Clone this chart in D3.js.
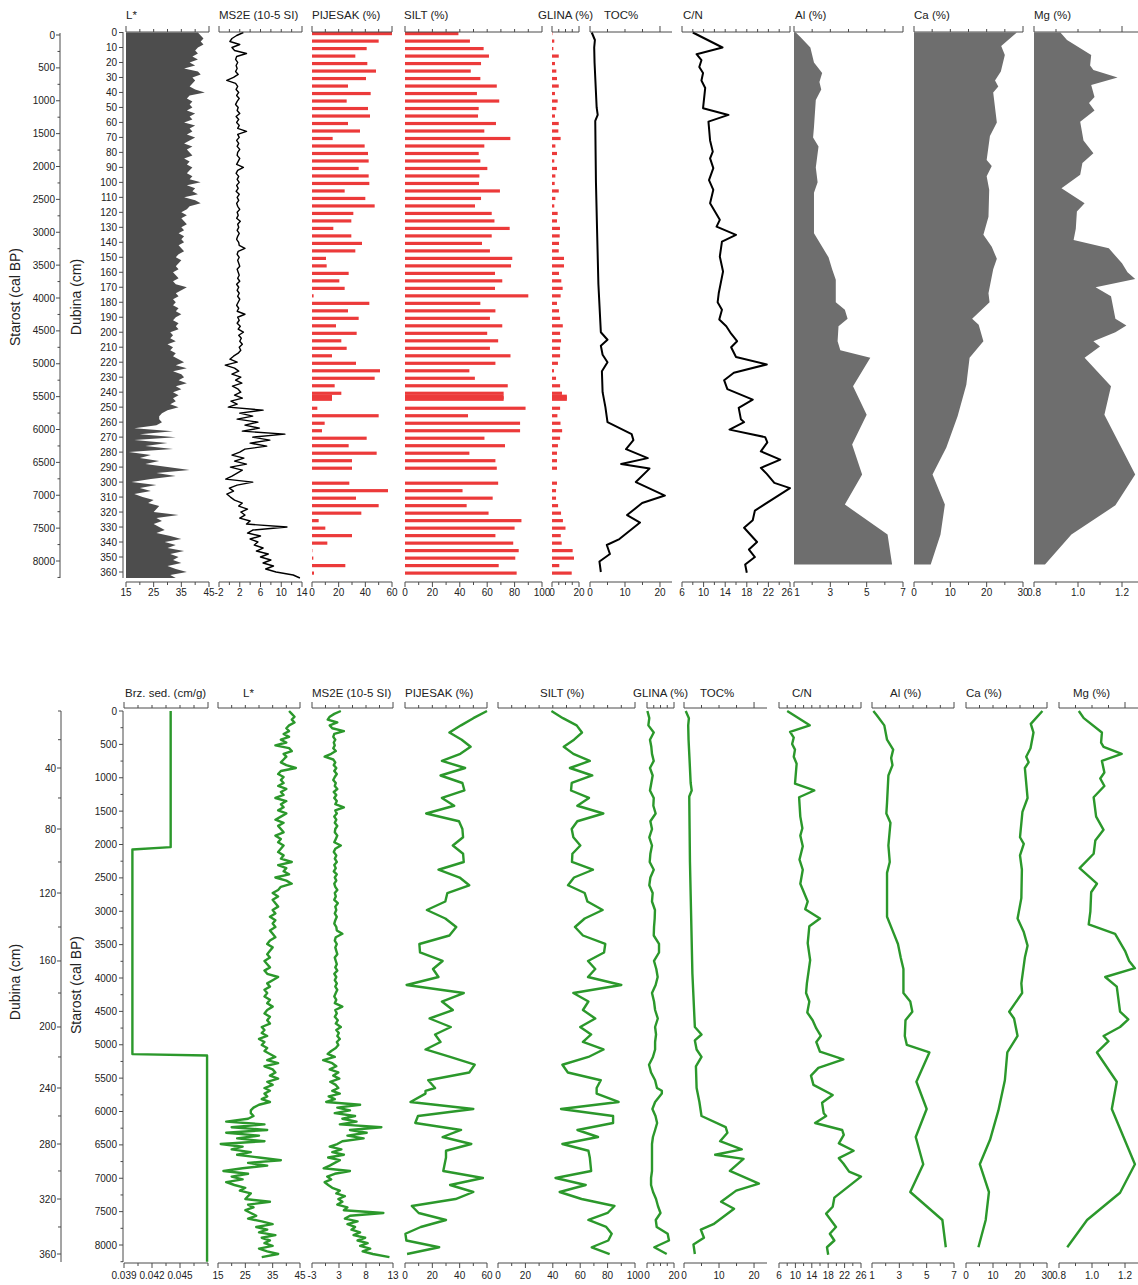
<!DOCTYPE html>
<html>
<head>
<meta charset="utf-8">
<script src="https://cdn.jsdelivr.net/npm/d3@7/dist/d3.min.js"></script>
<style>
html,body{margin:0;padding:0;background:#fff;}
svg text{font-family:Arial,"Liberation Sans",Helvetica,sans-serif;fill:#222;}
</style>
</head>
<body>
<div id="chart"></div>
<script>
// ================= DATA =================
// age-depth model (depth cm -> cal BP), read from the lower panel's depth axis
const adDepth = [0,20,40,60,80,100,120,140,160,180,200,220,240,260,280,300,320,340,360,365];
const adAge   = [0,430,854,1303,1768,2262,2727,3236,3745,4225,4734,5183,5648,6067,6487,6891,7311,7730,8135,8250];

// high resolution series, one value every 2 cm starting at 0 cm
const hiResStep = 2;
const lstar = [
41,42,43,42,43,41,
40,41,39,41,38, 40,36,41,42,39, 40,39,38,40,43.5, 38,37,39,38,39, 37,40,38,39,36,
40,38,39,37,40, 38,36,39,37,38, 39,36,38,37,39, 38,37,39,38,42, 37,40,39,41,36,
40,42,38,37,35, 37,35,36,37,35, 36,34,36,35,36, 34,35,36,34,33, 35,34,33,34,32,
33,34,32,33,37, 35,33,34,32,33, 32,34,33,35,33, 32,34,33,34,31, 32,31,33,30,32,
31,33,32,34,36, 33,37,32,35,36, 34,37,33,35,32, 34,32,33,31,34, 30,28,27,27,28,
26,18,32,20,33, 18,30,22,32,16, 24,20,27,22,30, 38,26,33,24,17, 26,20,24,18,21,
25,23,27,26,25, 34,26,28,25,27, 29,26,31,35,29, 33,30,36,31,34, 32,35,30,33,37,
31,33];
const ms2e = [
2.7,1.4,0.5,0.1,2,0.5,
1,3.3,1.4,1.2,1.6, 1.3,1.5,1.2,1.7,0.8, -0.5,1.2,1.6,1.3,1.8, 1.4,1.9,1.5,1.2,1.7, 1.5,2,1.3,1.8,1.4,
1.9,1.6,3.3,1.6,1.9, 1.4,1.8,1.5,2,1.6, 1.5,2,1.7,1.4,2.7, 1.6,1.3,1.8,1.5,1.9, 1.4,1.7,1.3,1.9,1.5,
1.8,1.4,1.6,2,1.5, 1.7,1.4,2.1,1.6,1.8, 1.5,1.9,1.6,1.4,1.8, 1.9,3,1.7,1.5,1.9, 1.6,1.8,2,1.5,1.7,
1.9,1.6,2,1.4,1.8, 1.5,1.9,1.6,2,1.7, 1.4,1.8,1.5,3,1.6, 1.9,1.5,2.1,1.7,2.7, 1.8,2.3,2,2.5,1.9,
2.2,1.7,0.8,0.1,1.5, -0.8,1,1.8,0.5,2.2, 1.2,2.4,0.6,1.7,2.2, 1,2.5,0.3,1.5,-0.2, 6.5,2,4.5,1.5,5.5,
3,5.8,2.5,10.7,4.5, 7.8,4,7.2,3,2, 0.5,2.8,1,3.3,0.2, 2.5,1.5,0.5,-0.7,4.5, 1.5,0,0.8,-0.5,0.2,
1,2.5,1.8,3.5,2.2, 3,2,4,3.3,11.1, 4.5,3.5,6,4,5.5, 4.8,6.5,5.2,7.5,6, 8,6.5,8.5,7,9,
12.3,13.6];

// grain size samples (cm)
const sedDepth = [0,5,10,15,20,25,30,35,40,45,50,55,60,65,70,75,80,85,90,95,100,105,110,115,120,125,130,135,140,145,150,155,160,165,170,175,180,185,190,195,200,205,210,215,220,225,230,235,240,242,243,244,250,255,260,265,270,275,280,285,290,300,305,310,315,320,325,330,335,340,345,350,355,360];
const pijesak = [60,50,41,32.5,41.5,48,40.5,27,44,26,42,43.5,27,36,15.5,39.5,42,42.5,35,42.5,43,24.5,40,47,31,29.5,16,29.5,37.5,32.5,10.5,11,27.5,20.5,24.5,1.2,43,27,35,18,33.5,22,26,15,33,51,47,17,22,15,15,15,4,50,9.5,7.5,41,27.5,48.5,30,30,28,57,33,50,37,5,10,30,11.5,0.3,1,25,1.5];
const silt = [39,47.4,57.4,61.3,55.5,48,55,67,52.5,68.8,53.8,53.3,66.4,57.9,76.9,57.9,53.8,55,60.1,54.3,54,69.3,55.5,51.1,63.3,65.3,76.4,63.3,56.2,62,78.3,77.4,65.7,71,65.7,90,55,66,62,71,60,68,62,77,66,47,51,75,72,72,72,72,88,46,84,84,58,73,47,66,67,68,42,64,45,61,85,80,66,79,83,80.5,68.4,81.5];
const glina = [0.3,1.7,1,5,2.2,3.2,3.7,5,2.2,4.2,3.2,2.2,5,4.7,6.4,2.5,3.7,1.7,3.7,2.5,2,5,2.5,1.7,4.2,3.7,5.9,5.7,5.2,5,8.9,8.9,5.2,6.9,7.9,6.4,3.7,5.2,6,8,6,6.7,6,6,4.4,1.5,3,6,7.4,11,11,11,6,4,6.3,7.5,6,4.4,3.7,3.7,3.7,3.7,3,3,4.5,6.7,8.1,10,6.5,7.2,15.3,16.3,5.4,14.6];

// TOC (%)
const tocDepth = [0,5,10,20,35,50,55,59,80,100,130,168,200,205,209,215,220,226,240,250,260,268,272,278,284,288,291,300,309,314,322,327,338,342,348,353,360];
const tocVal   = [0.5,1.4,1.2,1.3,1.6,1.9,2.2,1.5,1.6,1.7,2.0,2.4,3.1,5.0,3.1,3.6,5.0,3.4,3.6,4.4,5.0,11.9,12.4,10.3,16.5,8.9,17,13.1,21.4,14.9,10.6,14.3,8.4,4.8,5.7,2.7,3.1];

// C/N
const cnDepth = [0,10,14.5,18.5,23,27,32,37,50.5,55,59.5,72,79.5,84,90.5,98.5,105,114,125,129.5,135,139.5,149.5,159.5,174,180,185,191.5,196,201,206,210,216.5,221.5,227,232,238,245,250.5,258,260,265,270,273.5,279.5,285,290.5,294.5,300.5,304,319,325.5,330.5,340,345,350,355,360.5];
const cnVal   = [8,13.5,8.7,9.6,9.2,9.9,9.6,10.3,9.9,14.6,10.9,11.2,11.7,11.2,11.8,11,11.8,11.2,13,12.4,16,13.4,13,13.6,12.8,12.6,13.4,12.9,14.2,15.1,16.2,15.1,16,21.7,15.6,13.8,14.4,19.1,16.5,16.9,17.5,14.8,21.4,21.8,20.6,24.2,20.6,21.7,23.1,26,19.5,19.1,17.5,19.9,18.4,19.5,17.7,18];

// Al (%)
const alDepth = [0,3,10,20,27,33,38,45,63,70,76,90,100,107,134,142,150,158,165,180,185,191,196,206,212,217,236,255,275,295,315,335,355];
const alVal   = [1.1,1.35,1.9,2.1,2.55,2.4,2.5,2.2,2.1,2.05,2.35,2.2,2.3,2.1,2.1,2.5,2.9,3.1,3.3,3.3,3.8,3.95,3.45,3.4,3.55,5.2,4.25,5.0,4.2,4.75,3.8,6.15,6.4];

// Ca (%)
const caDepth = [0,9,15,26,32,36,40,60,69,85,89,96,105,123,135,143,151,158,174,180,191,195,206,217,235,256,277,295,315,335,355];
const caVal   = [28.3,24,25,23.9,22.3,23.2,21.8,22.8,20.9,20,21.4,20,20.7,20.5,19.1,21.4,22.8,21.8,20.5,20.8,16,17.8,19.1,15.3,14.4,12,8.9,5.1,8.5,7.3,4.6];

// Mg (%)
const mgDepth = [0,5,15,22,25,30,35,43,47,52,59.5,72,80.5,87,95,104,114,119.5,131,138.5,144,154,160,164.5,170,176,191,195.5,200,206,209.5,217,236,255,295,315.5,335,355];
const mgVal   = [0.92,0.95,1.06,1.055,1.07,1.18,1.06,1.075,1.05,1.075,1.01,1.025,1.07,1.02,1.01,0.925,1.03,0.995,0.99,0.98,1.14,1.2,1.225,1.26,1.08,1.15,1.17,1.22,1.17,1.07,1.1,1.03,1.15,1.12,1.26,1.17,0.97,0.85];

// sedimentation rate (cm/g) vs age (cal BP)
const brzAge = [0,2040,2075,5140,5160,8250];
const brzVal = [0.0440,0.0440,0.0399,0.0399,0.0479,0.0479];

// tick values / labels
const ageTickVals = [0,500,1000,1500,2000,2500,3000,3500,4000,4500,5000,5500,6000,6500,7000,7500,8000];
const ageMinorVals = [250,750,1250,1750,2250,2750,3250,3750,4250,4750,5250,5750,6250,6750,7250,7750,8250];
const depthTopLabels = [0,10,20,30,40,50,60,70,80,90,100,110,120,130,140,150,160,170,180,190,200,210,220,230,240,250,260,270,280,290,300,310,320,330,340,350,360];
const depthBotLabels = [40,80,120,160,200,240,280,320,360];
const depthBotMinor  = [0,20,60,100,140,180,220,260,300,340];

const ticksL = [15,20,25,30,35,40,45], labsL = [15,25,35,45];
const ticksMsTop = [-2,0,2,4,6,8,10,12,14], labsMsTop = [-2,2,6,10,14];
const ticksMsBot = [-3,-0.3333,2.3333,5,7.6667,10.3333,13], labsMsBot = [-3,2.3333,7.6667,13], textMsBot = ["-3","3","8","13"];
const ticksPij = [0,10,20,30,40,50,60], labsPij = [0,20,40,60];
const ticksSilt = [0,10,20,30,40,50,60,70,80,90,100], labsSilt = [0,20,40,60,80,100];
const ticksGlina = [0,5,10,15,20], labsGlina = [0,20];
const ticksToc = [0,5,10,15,20], labsToc = [0,10,20];
const ticksCn = [6,8,10,12,14,16,18,20,22,24,26], labsCn = [6,10,14,18,22,26];
const ticksAl = [1,2,3,4,5,6,7], labsAl = [1,3,5,7];
const ticksCa = [0,5,10,15,20,25,30], labsCa = [0,10,20,30];
const ticksMg = [0.8,0.9,1.0,1.1,1.2], labsMg = [0.8,1.0,1.2];
const ticksBrz = [0.039,0.0405,0.042,0.0435,0.045,0.0465,0.048], labsBrz = [0.039,0.042,0.045];

// ================= DRAWING =================
const W = 1138, H = 1285;
const svg = d3.select('#chart').append('svg').attr('width', W).attr('height', H);
const AX = '#4a4a4a';
const GREEN = '#2b982b';
const RED = '#ec3a3a';

const hiDepth = lstar.map((_, i) => i * hiResStep);
const depthToAge = d3.scaleLinear(adDepth, adAge).clamp(false);

// vertical scales
const yTop = d3.scaleLinear([0, 360], [32.5, 572]);
const yAgeTop = d3.scaleLinear([0, 8000], [35, 561]);
const yBot = d3.scaleLinear([0, 8000], [711, 1245]);

function near(a, v) { return a.some(x => Math.abs(x - v) < 1e-6); }

function hAxis(g, x, y, ticks, labels, dir, labelY, fmt, texts, shifts) {
  const r = x.range();
  g.append('line').attr('x1', r[0]).attr('x2', r[1]).attr('y1', y).attr('y2', y)
    .attr('stroke', AX).attr('stroke-width', 1);
  ticks.forEach((v, i) => {
    let len;
    if (dir === 'up') len = (i === 0 || i === ticks.length - 1) ? 6 : 3;
    else len = near(labels, v) ? 5 : 3;
    const s = dir === 'up' ? -1 : 1;
    g.append('line').attr('x1', x(v)).attr('x2', x(v)).attr('y1', y).attr('y2', y + s * len)
      .attr('stroke', AX).attr('stroke-width', 1);
  });
  if (labelY != null) {
    labels.forEach((v, i) => {
      const dx = (shifts && shifts[i]) || 0;
      g.append('text').attr('x', x(v) + dx).attr('y', labelY).attr('text-anchor', 'middle')
        .attr('font-size', 10).text(texts ? texts[i] : fmt(v));
    });
  }
}

function vAxis(g, y, x, y0, y1, majors, minors, labelX, fmt, minorLen) {
  g.append('line').attr('x1', x).attr('x2', x).attr('y1', y0).attr('y2', y1)
    .attr('stroke', AX).attr('stroke-width', 1);
  majors.forEach(v => {
    g.append('line').attr('x1', x - 4).attr('x2', x).attr('y1', y(v)).attr('y2', y(v)).attr('stroke', AX);
    g.append('text').attr('x', labelX).attr('y', y(v)).attr('dy', '0.35em')
      .attr('text-anchor', 'end').attr('font-size', 10).text(fmt(v));
  });
  minors.forEach(v => {
    if (y(v) <= y1 + 0.5)
      g.append('line').attr('x1', x - (minorLen || 2.5)).attr('x2', x).attr('y1', y(v)).attr('y2', y(v)).attr('stroke', AX);
  });
}

function vTitle(g, text, x, y) {
  g.append('text').attr('transform', `translate(${x},${y}) rotate(-90)`)
    .attr('text-anchor', 'middle').attr('font-size', 14).text(text);
}
function colTitle(g, text, x, y) {
  g.append('text').attr('x', x).attr('y', y).attr('font-size', 11.5).text(text);
}

const fInt = d => String(d);
const f1 = d3.format('.1f');
const f3 = d3.format('.3f');

// ---------------- TOP PANEL ----------------
const gT = svg.append('g');
vAxis(gT, yAgeTop, 60, 33, 578, ageTickVals, ageMinorVals, 55, fInt);
vAxis(gT, yTop, 123, 32, 578, depthTopLabels, [], 117, fInt);
vTitle(gT, 'Starost (cal BP)', 20, 297);
vTitle(gT, 'Dubina (cm)', 81, 297);

const T_AX_TOP = 32, T_AX_BOT = 582, T_LAB = 596, T_TITLE = 19;

const xs = {
  L:   d3.scaleLinear([15, 45], [126, 209]),
  MS:  d3.scaleLinear([-2, 14], [219, 302]),
  PIJ: d3.scaleLinear([0, 60], [312, 392]),
  SILT:d3.scaleLinear([0, 100], [405, 542]),
  GL:  d3.scaleLinear([0, 20], [552, 579]),
  TOC: d3.scaleLinear([0, 23.43], [590, 672]),
  CN:  d3.scaleLinear([6, 26], [682, 790]),
  AL:  d3.scaleLinear([1, 7], [794, 903]),
  CA:  d3.scaleLinear([0, 30], [914, 1023]),
  MG:  d3.scaleLinear([0.8, 1.2727], [1034, 1138])
};
const topCols = [
  {s: xs.L, t: 'L*', tx: 126, ticks: ticksL, labs: labsL, f: fInt},
  {s: xs.MS, t: 'MS2E (10-5 SI)', tx: 219, ticks: ticksMsTop, labs: labsMsTop, f: fInt},
  {s: xs.PIJ, t: 'PIJESAK (%)', tx: 312, ticks: ticksPij, labs: labsPij, f: fInt},
  {s: xs.SILT, t: 'SILT (%)', tx: 404, ticks: ticksSilt, labs: labsSilt, f: fInt},
  {s: xs.GL, t: 'GLINA (%)', tx: 538, ticks: ticksGlina, labs: labsGlina, f: fInt},
  {s: xs.TOC, t: 'TOC%', tx: 604, ticks: ticksToc, labs: labsToc, f: fInt},
  {s: xs.CN, t: 'C/N', tx: 683, ticks: ticksCn, labs: labsCn, f: fInt, sh: [0,0,0,0,0,-3]},
  {s: xs.AL, t: 'Al (%)', tx: 795, ticks: ticksAl, labs: labsAl, f: fInt, sh: [3,0,0,0]},
  {s: xs.CA, t: 'Ca (%)', tx: 914, ticks: ticksCa, labs: labsCa, f: fInt},
  {s: xs.MG, t: 'Mg (%)', tx: 1034, ticks: ticksMg, labs: labsMg, f: f1}
];

// data marks (top)
const hi = hiDepth.map((d, i) => ({d, L: lstar[i], M: ms2e[i]}));
gT.append('path').datum(hi)
  .attr('d', d3.area().y(p => yTop(p.d)).x0(xs.L(15)).x1(p => xs.L(p.L)))
  .attr('fill', '#4d4d4d');
gT.append('path').datum(hi)
  .attr('d', d3.line().y(p => yTop(p.d)).x(p => xs.MS(p.M)))
  .attr('fill', 'none').attr('stroke', '#000').attr('stroke-width', 1.4).attr('stroke-linejoin', 'round');

const sed = sedDepth.map((d, i) => ({d, p: pijesak[i], s: silt[i], g: glina[i]}));
[['p', xs.PIJ], ['s', xs.SILT], ['g', xs.GL]].forEach(([k, sc]) => {
  gT.append('g').selectAll('rect').data(sed).join('rect')
    .attr('x', sc(0)).attr('y', r => yTop(r.d) - 0.5)
    .attr('width', r => Math.max(0, sc(r[k]) - sc(0))).attr('height', 3.2)
    .attr('fill', RED);
});

function pts(dep, val) { return dep.map((d, i) => ({d, v: val[i]})); }
const toc = pts(tocDepth, tocVal), cn = pts(cnDepth, cnVal), al = pts(alDepth, alVal),
      ca = pts(caDepth, caVal), mg = pts(mgDepth, mgVal);

gT.append('path').datum(toc).attr('d', d3.line().y(p => yTop(p.d)).x(p => xs.TOC(p.v)))
  .attr('fill', 'none').attr('stroke', '#000').attr('stroke-width', 2).attr('stroke-linejoin', 'round');
gT.append('path').datum(cn).attr('d', d3.line().y(p => yTop(p.d)).x(p => xs.CN(p.v)))
  .attr('fill', 'none').attr('stroke', '#000').attr('stroke-width', 2).attr('stroke-linejoin', 'round');
[[al, xs.AL], [ca, xs.CA], [mg, xs.MG]].forEach(([data, sc]) => {
  gT.append('path').datum(data)
    .attr('d', d3.area().y(p => yTop(p.d)).x0(sc.range()[0]).x1(p => sc(p.v)))
    .attr('fill', '#6e6e6e');
});

topCols.forEach(c => {
  hAxis(gT, c.s, T_AX_TOP, c.ticks.filter(v => v <= c.s.domain()[1] + 1e-9), [], 'up', null, c.f);
  hAxis(gT, c.s, T_AX_BOT, c.ticks, c.labs, 'down', T_LAB, c.f, null, c.sh);
  colTitle(gT, c.t, c.tx, T_TITLE);
});

// ---------------- BOTTOM PANEL ----------------
const gB = svg.append('g');
const yDepthBot = d => yBot(depthToAge(d));
vAxis(gB, yDepthBot, 61, 711, 1262, depthBotLabels, depthBotMinor, 56, fInt, 3);
vAxis(gB, yBot, 123, 711, 1262, ageTickVals, ageMinorVals, 117, fInt);
vTitle(gB, 'Dubina (cm)', 20, 982);
vTitle(gB, 'Starost (cal BP)', 81, 985);

const B_AX_TOP = 708, B_AX_BOT = 1263, B_LAB = 1279, B_TITLE = 697;
const xb = {
  BRZ: d3.scaleLinear([0.039, 0.048], [124, 208]),
  L:   d3.scaleLinear([15, 45], [218, 300]),
  MS:  d3.scaleLinear([-3, 13], [312, 393]),
  PIJ: d3.scaleLinear([0, 60], [405, 487]),
  SILT:d3.scaleLinear([0, 100], [498, 635]),
  GL:  d3.scaleLinear([0, 20], [647, 674]),
  TOC: d3.scaleLinear([0, 23.7], [684, 767]),
  CN:  d3.scaleLinear([6, 26], [779, 861]),
  AL:  d3.scaleLinear([1, 7], [872, 954]),
  CA:  d3.scaleLinear([0, 30], [966, 1047]),
  MG:  d3.scaleLinear([0.8, 1.2848], [1059, 1139])
};
const botCols = [
  {s: xb.BRZ, t: 'Brz. sed. (cm/g)', tx: 125, ticks: ticksBrz, labs: labsBrz, f: f3},
  {s: xb.L, t: 'L*', tx: 243, ticks: ticksL, labs: labsL, f: fInt},
  {s: xb.MS, t: 'MS2E (10-5 SI)', tx: 312, ticks: ticksMsBot, labs: labsMsBot, f: fInt, texts: textMsBot},
  {s: xb.PIJ, t: 'PIJESAK (%)', tx: 405, ticks: ticksPij, labs: labsPij, f: fInt},
  {s: xb.SILT, t: 'SILT (%)', tx: 540, ticks: ticksSilt, labs: labsSilt, f: fInt},
  {s: xb.GL, t: 'GLINA (%)', tx: 633, ticks: ticksGlina, labs: labsGlina, f: fInt},
  {s: xb.TOC, t: 'TOC%', tx: 700, ticks: ticksToc, labs: labsToc, f: fInt},
  {s: xb.CN, t: 'C/N', tx: 792, ticks: ticksCn, labs: labsCn, f: fInt},
  {s: xb.AL, t: 'Al (%)', tx: 890, ticks: ticksAl, labs: labsAl, f: fInt},
  {s: xb.CA, t: 'Ca (%)', tx: 966, ticks: ticksCa, labs: labsCa, f: fInt},
  {s: xb.MG, t: 'Mg (%)', tx: 1073, ticks: ticksMg, labs: labsMg, f: f1}
];

function greenLine(data, sc, yf) {
  gB.append('path').datum(data)
    .attr('d', d3.line().y(yf).x(p => sc(p.v)))
    .attr('fill', 'none').attr('stroke', GREEN).attr('stroke-width', 2.4)
    .attr('stroke-linejoin', 'round');
}
const byDepth = p => yBot(depthToAge(p.d));
greenLine(brzAge.map((a, i) => ({a, v: brzVal[i]})), xb.BRZ, p => yBot(p.a));
const hiBot = hi.filter(p => p.d <= 362);
greenLine(hiBot.map(p => ({d: p.d, v: p.L})), xb.L, byDepth);
greenLine(hiBot.map(p => ({d: p.d, v: p.M})), xb.MS, byDepth);
greenLine(sed.map(p => ({d: p.d, v: p.p})), xb.PIJ, byDepth);
greenLine(sed.map(p => ({d: p.d, v: p.s})), xb.SILT, byDepth);
greenLine(sed.map(p => ({d: p.d, v: p.g})), xb.GL, byDepth);
greenLine(toc, xb.TOC, byDepth);
greenLine(cn, xb.CN, byDepth);
greenLine(al, xb.AL, byDepth);
greenLine(ca, xb.CA, byDepth);
greenLine(mg, xb.MG, byDepth);

botCols.forEach(c => {
  hAxis(gB, c.s, B_AX_TOP, c.ticks, [], 'up', null, c.f);
  hAxis(gB, c.s, B_AX_BOT, c.ticks, c.labs, 'down', B_LAB, c.f, c.texts);
  colTitle(gB, c.t, c.tx, B_TITLE);
});
</script>
</body>
</html>
